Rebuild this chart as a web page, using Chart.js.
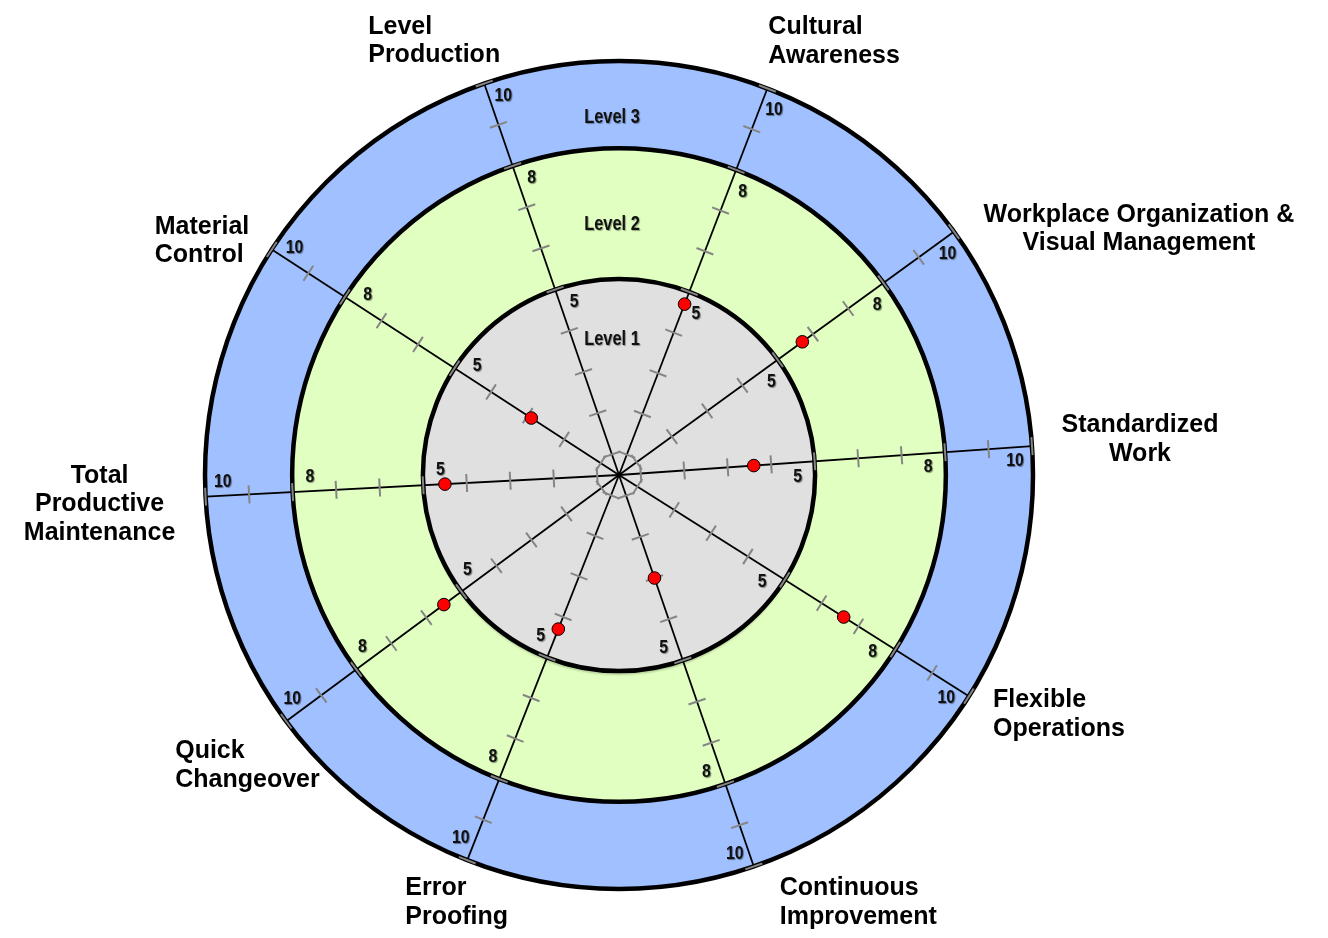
<!DOCTYPE html>
<html>
<head>
<meta charset="utf-8">
<title>Lean Assessment</title>
<script src="https://cdn.jsdelivr.net/npm/chart.js@4.4.1/dist/chart.umd.min.js"></script>
<style>
    html, body { margin: 0; padding: 0; background: #ffffff; }
    #wrap { width: 1328px; height: 938px; position: relative; }
</style>
</head>
<body>
<div id="wrap"><canvas id="myChart"></canvas></div>
<script>
// ---- data ----
var categories = ['Level Production', 'Cultural Awareness', 'Workplace Organization & Visual Management',
    'Standardized Work', 'Flexible Operations', 'Continuous Improvement', 'Error Proofing',
    'Quick Changeover', 'Total Productive Maintenance', 'Material Control'];
var categoryLines = [
    ['Level', 'Production'],
    ['Cultural', 'Awareness'],
    ['Workplace Organization &', 'Visual Management'],
    ['Standardized', 'Work'],
    ['Flexible', 'Operations'],
    ['Continuous', 'Improvement'],
    ['Error', 'Proofing'],
    ['Quick', 'Changeover'],
    ['Total', 'Productive', 'Maintenance'],
    ['Material', 'Control']
];
var scores = [null, 4.7, 5.7, 3.6, 6.6, 3.0, 4.3, 5.5, 4.5, 2.9];
var tickValues = [1, 2, 3, 4, 5, 6, 7, 8, 9, 10];
var tickLabels = [5, 8, 10];
var levelNames = ['Level 1', 'Level 2', 'Level 3'];
var levelLimits = [5, 8, 10];

// ---- layout ----
// the axes in the original are not evenly spaced, so each one gets its own angle (deg, clockwise from top)
var axisAngles = [341, 21, 54, 86, 122.3, 161, 201.5, 233.5, 267, 303];
var levelLabelAt = [3.6, 6.25, 8.7];
var ringColors = ['#e0e0e0', '#e0ffc0', '#a0c0ff'];
// label anchors relative to the end of each axis: [dx, dy, align]
var labelOffsets = [
    [-116, -50, 'left'], [1, -54, 'left'], [185, -10, 'center'], [108, -14, 'center'],
    [24, 11, 'left'], [26, 29, 'left'], [-62, 35, 'left'], [-111, 37, 'left'],
    [-106, -14, 'center'], [-117, -16, 'left']
];

class AngledRadialScale extends Chart.RadialLinearScale {
    getIndexAngle(index) {
        return axisAngles[index] * Math.PI / 180;
    }
}
AngledRadialScale.id = 'angledRadial';
AngledRadialScale.defaults = Chart.RadialLinearScale.defaults;
Chart.register(AngledRadialScale);

function narrowText(ctx, text, x, y, sx) {
    ctx.save();
    ctx.translate(x, y);
    ctx.scale(sx, 1);
    ctx.fillText(text, 0, 0);
    ctx.restore();
}

var wheelPlugin = {
    id: 'wheel',
    beforeDraw: function (chart) {
        var scale = chart.scales.r;
        var ctx = chart.ctx;
        var cx = scale.xCenter, cy = scale.yCenter;
        ctx.save();
        for (var i = levelLimits.length - 1; i >= 0; i--) {
            var rad = scale.getDistanceFromCenterForValue(levelLimits[i]);
            ctx.beginPath();
            ctx.arc(cx, cy, rad, 0, Math.PI * 2);
            ctx.fillStyle = ringColors[i];
            if (i == 0) {
                ctx.shadowColor = 'rgba(0,0,0,0.18)';
                ctx.shadowOffsetY = 4;
                ctx.shadowBlur = 2;
            }
            ctx.fill();
            ctx.shadowColor = 'transparent';
            ctx.lineWidth = 4.5;
            ctx.strokeStyle = '#000000';
            ctx.stroke();
        }
        ctx.restore();
    },
    beforeDatasetsDraw: function (chart) {
        var scale = chart.scales.r;
        var ctx = chart.ctx;
        var cx = scale.xCenter, cy = scale.yCenter;
        ctx.save();

        // tick marks and scale numbers on every axis
        for (var i = 0; i < categories.length; i++) {
            var a = scale.getIndexAngle(i) - Math.PI / 2;
            var dx = Math.cos(a), dy = Math.sin(a);
            var nx = -dy, ny = dx;
            ctx.strokeStyle = '#858585';
            ctx.lineWidth = 2;
            for (var k = 0; k < tickValues.length; k++) {
                var p = scale.getPointPositionForValue(i, tickValues[k]);
                ctx.beginPath();
                ctx.moveTo(p.x - nx * 9, p.y - ny * 9);
                ctx.lineTo(p.x + nx * 9, p.y + ny * 9);
                ctx.stroke();
            }
            ctx.font = 'bold 18px "Liberation Sans", Arial, sans-serif';
            ctx.textAlign = 'center';
            ctx.textBaseline = 'middle';
            ctx.fillStyle = '#111111';
            ctx.shadowColor = 'rgba(0,0,0,0.45)';
            ctx.shadowOffsetX = 1;
            ctx.shadowOffsetY = 1;
            ctx.shadowBlur = 1;
            for (var t = 0; t < tickLabels.length; t++) {
                var d = scale.getDistanceFromCenterForValue(tickLabels[t]) - 18;
                narrowText(ctx, String(tickLabels[t]), cx + dx * d + nx * 14, cy + dy * d + ny * 14, 0.88);
            }
            ctx.shadowColor = 'transparent';
        }

        // level names
        ctx.font = 'bold 20px "Liberation Sans", Arial, sans-serif';
        ctx.textAlign = 'center';
        ctx.textBaseline = 'middle';
        ctx.fillStyle = '#111111';
        ctx.shadowColor = 'rgba(0,0,0,0.35)';
        ctx.shadowOffsetX = 1;
        ctx.shadowOffsetY = 1;
        ctx.shadowBlur = 1;
        for (var l = 0; l < levelNames.length; l++) {
            var ly = cy - scale.getDistanceFromCenterForValue(levelLabelAt[l]);
            narrowText(ctx, levelNames[l], cx - 7, ly, 0.82);
        }
        ctx.shadowColor = 'transparent';

        // category names
        ctx.font = 'bold 25px "Liberation Sans", Arial, sans-serif';
        ctx.textBaseline = 'alphabetic';
        ctx.fillStyle = '#000000';
        for (var c = 0; c < categories.length; c++) {
            var end = scale.getPointPositionForValue(c, scale.max);
            var off = labelOffsets[c];
            ctx.textAlign = off[2];
            for (var m = 0; m < categoryLines[c].length; m++) {
                ctx.fillText(categoryLines[c][m], end.x + off[0], end.y + off[1] + m * 28.5);
            }
        }
        ctx.restore();
    }
};

var ctx = document.getElementById('myChart').getContext('2d');
var myChart = new Chart(ctx, {
    type: 'radar',
    data: {
        labels: categories,
        datasets: [{
            label: 'Score',
            data: scores,
            showLine: false,
            fill: false,
            pointRadius: 6.3,
            pointBackgroundColor: '#ff0000',
            pointBorderColor: '#000000',
            pointBorderWidth: 1
        }]
    },
    options: {
        responsive: true,
        maintainAspectRatio: false,
        animation: false,
        events: [],
        layout: {
            autoPadding: false,
            padding: { left: 205, right: 295, top: 61, bottom: 49 }
        },
        plugins: {
            legend: { display: false },
            tooltip: { enabled: false }
        },
        scales: {
            r: {
                type: 'angledRadial',
                min: 0.5,
                max: 10,
                ticks: { display: false, stepSize: 1 },
                grid: { display: false },
                angleLines: { display: true, color: '#000000', lineWidth: 1.8 },
                pointLabels: { display: false }
            }
        }
    },
    plugins: [wheelPlugin]
});
</script>
</body>
</html>
